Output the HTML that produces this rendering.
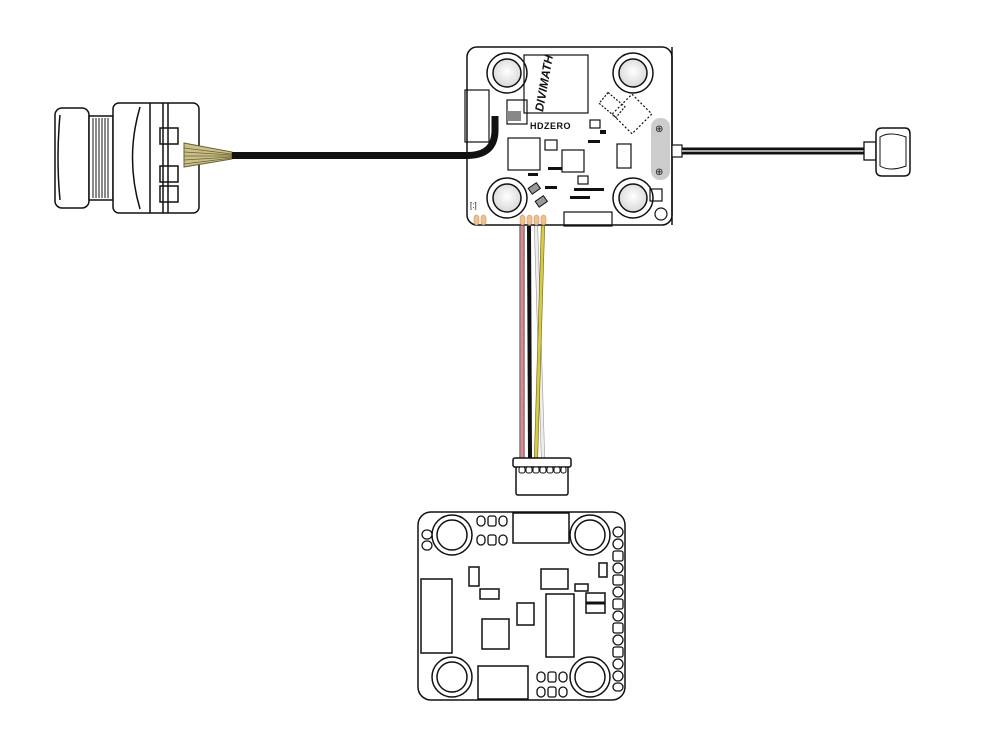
<!DOCTYPE html>
<html><head><meta charset="utf-8"><style>html,body{margin:0;padding:0;background:#fff}svg{display:block}</style></head>
<body>
<svg width="1000" height="750" viewBox="0 0 1000 750" xmlns="http://www.w3.org/2000/svg" font-family="Liberation Sans, sans-serif">
<defs>
<radialGradient id="hg" cx="50%" cy="45%" r="55%"><stop offset="0" stop-color="#fff"/><stop offset="1" stop-color="#d8d8d8"/></radialGradient>
</defs>
<g fill="none" stroke="#111" stroke-width="1.5">
<!-- camera -->
<rect x="55" y="108" width="34" height="100" rx="7" fill="#fff"/>
<path d="M60 115 Q56 158 60 200"/>
<rect x="89" y="116" width="24" height="84" fill="#fff"/>
<g stroke-width="1">
<line x1="93" y1="118" x2="93" y2="198"/><line x1="96" y1="118" x2="96" y2="198"/><line x1="99" y1="118" x2="99" y2="198"/><line x1="102" y1="118" x2="102" y2="198"/><line x1="105" y1="118" x2="105" y2="198"/><line x1="108" y1="118" x2="108" y2="198"/>
</g>
<rect x="113" y="103" width="86" height="110" rx="6" fill="#fff"/>
<path d="M140 107 Q125 158 140 209"/>
<line x1="150" y1="103" x2="150" y2="213"/><line x1="163" y1="103" x2="163" y2="213"/><line x1="168" y1="103" x2="168" y2="213"/>
<rect x="160" y="128" width="18" height="16"/><rect x="160" y="166" width="18" height="16"/><rect x="160" y="186" width="18" height="16"/>
</g>
<!-- camera wires -->
<path d="M184 143 L232 152 L232 159 L184 167 Z" fill="#c9c08a" stroke="#6a6030" stroke-width="1"/>
<g stroke="#6a6030" stroke-width="0.7"><line x1="184" y1="148" x2="232" y2="154"/><line x1="184" y1="152" x2="232" y2="155"/><line x1="184" y1="156" x2="232" y2="156"/><line x1="184" y1="160" x2="232" y2="157"/><line x1="184" y1="164" x2="232" y2="158"/></g>
<!-- top board -->
<rect x="467" y="47" width="205" height="178" rx="10" fill="#fff" stroke="#111" stroke-width="1.5"/>
<g stroke="#111" stroke-width="1.5">
<circle cx="507" cy="73" r="20" fill="#fff"/><circle cx="507" cy="73" r="14" fill="url(#hg)"/>
<circle cx="633" cy="73" r="20" fill="#fff"/><circle cx="633" cy="73" r="14" fill="url(#hg)"/>
<circle cx="507" cy="198" r="20" fill="#fff"/><circle cx="507" cy="198" r="14" fill="url(#hg)"/>
<circle cx="633" cy="198" r="20" fill="#fff"/><circle cx="633" cy="198" r="14" fill="url(#hg)"/>
</g>
<g fill="none" stroke="#111" stroke-width="1.2">
<rect x="524" y="55" width="64" height="58"/>
<rect x="465" y="90" width="24" height="52"/>
<rect x="507" y="100" width="20" height="24"/>
<rect x="508" y="138" width="32" height="32"/>
<rect x="562" y="150" width="22" height="22"/>
<rect x="617" y="144" width="14" height="24"/>
<rect x="564" y="212" width="48" height="14"/>
<rect x="601" y="98" width="22" height="14" stroke-dasharray="2 1.5" transform="rotate(40 612 105)"/>
<rect x="618" y="100" width="28" height="28" stroke-dasharray="2 2" transform="rotate(45 632 114)"/>
<circle cx="661" cy="214" r="6"/>
<rect x="650" y="189" width="12" height="12"/>
<rect x="545" y="140" width="12" height="10"/>
<rect x="590" y="120" width="10" height="8"/>
<rect x="578" y="176" width="10" height="8"/>
</g>
<rect x="507" y="111" width="14" height="10" fill="#888"/>
<rect x="529" y="185" width="10" height="7" fill="#999" stroke="#111" transform="rotate(-35 534 188)"/>
<rect x="536" y="198" width="10" height="7" fill="#999" stroke="#111" transform="rotate(-35 541 201)"/>
<g fill="#111"><rect x="548" y="167" width="14" height="3"/><rect x="574" y="188" width="30" height="3"/><rect x="570" y="196" width="20" height="3"/><rect x="600" y="130" width="6" height="4"/><rect x="528" y="173" width="10" height="3"/><rect x="545" y="186" width="12" height="3"/><rect x="588" y="140" width="12" height="3"/></g>
<text transform="translate(548 84) rotate(-80)" text-anchor="middle" font-size="12" font-weight="bold" font-style="italic" fill="#111">DIVIMATH</text>
<text x="530" y="129" font-size="9" font-weight="bold" fill="#111" letter-spacing="0.5">HDZERO</text>
<text x="470" y="208" font-size="8" fill="#111">[:]</text>
<!-- camera cable on top of board -->
<path d="M232 155.5 L468 155.5 Q495 155 495 130 L495 116" fill="none" stroke="#111" stroke-width="7"/>
<!-- antenna mount -->
<rect x="651" y="118" width="19" height="62" rx="9" fill="#ccc"/>
<text x="655" y="132" font-size="10" fill="#111">⊕</text><text x="655" y="175" font-size="10" fill="#111">⊕</text>
<line x1="672" y1="47" x2="672" y2="225" stroke="#111" stroke-width="1.5"/>
<rect x="672" y="145" width="10" height="12" fill="#fff" stroke="#111" stroke-width="1.2"/>
<line x1="682" y1="151" x2="864" y2="151" stroke="#111" stroke-width="7"/>
<line x1="682" y1="151" x2="864" y2="151" stroke="#fff" stroke-width="1.2"/>
<rect x="864" y="142" width="12" height="18" fill="#fff" stroke="#111" stroke-width="1.3"/>
<path d="M876 134 Q876 128 882 128 L905 128 Q910 128 910 134 L910 170 Q910 176 904 176 L882 176 Q876 176 876 170 Z" fill="#fff" stroke="#111" stroke-width="1.5"/>
<path d="M880 137 Q890 131 906 137 L906 166 Q890 172 880 166 Z" fill="none" stroke="#111" stroke-width="1"/>
<!-- pads -->
<g fill="#f0c090" stroke="#c09060" stroke-width="0.5">
<rect x="474" y="215" width="5" height="10" rx="2.5"/><rect x="481" y="215" width="5" height="10" rx="2.5"/>
<rect x="520" y="215" width="5" height="10" rx="2.5"/><rect x="527" y="215" width="5" height="10" rx="2.5"/><rect x="534" y="215" width="5" height="10" rx="2.5"/><rect x="541" y="215" width="5" height="10" rx="2.5"/>
</g>
<!-- wires -->
<line x1="522" y1="226" x2="522" y2="458" stroke="#333" stroke-width="5"/><line x1="522" y1="226" x2="522" y2="458" stroke="#d98a95" stroke-width="3.5"/>
<line x1="529" y1="226" x2="530" y2="458" stroke="#111" stroke-width="4"/>
<line x1="536" y1="226" x2="543" y2="458" stroke="#999" stroke-width="4"/><line x1="536" y1="226" x2="543" y2="458" stroke="#eee" stroke-width="2.8"/>
<line x1="543" y1="226" x2="536" y2="458" stroke="#6a6020" stroke-width="4"/><line x1="543" y1="226" x2="536" y2="458" stroke="#d8cc40" stroke-width="2.8"/>
<!-- connector -->
<rect x="516" y="466" width="52" height="29" rx="2" fill="#fff" stroke="#111" stroke-width="1.5"/>
<rect x="513" y="458" width="58" height="9" rx="2" fill="#fff" stroke="#111" stroke-width="1.5"/>
<g fill="#fff" stroke="#111" stroke-width="1"><rect x="519" y="467" width="6" height="6" rx="2"/><rect x="526" y="467" width="6" height="6" rx="2"/><rect x="533" y="467" width="6" height="6" rx="2"/><rect x="540" y="467" width="6" height="6" rx="2"/><rect x="547" y="467" width="6" height="6" rx="2"/><rect x="554" y="467" width="6" height="6" rx="2"/><rect x="561" y="467" width="5" height="6" rx="2"/></g>
<!-- bottom board -->
<g fill="#fff" stroke="#111" stroke-width="1.5">
<rect x="418" y="512" width="207" height="188" rx="13"/>
<circle cx="452" cy="535" r="20"/><circle cx="452" cy="535" r="15"/>
<circle cx="590" cy="535" r="20"/><circle cx="590" cy="535" r="15"/>
<circle cx="452" cy="677" r="20"/><circle cx="452" cy="677" r="15"/>
<circle cx="590" cy="677" r="20"/><circle cx="590" cy="677" r="15"/>
<rect x="513" y="513" width="56" height="30"/>
<rect x="421" y="579" width="31" height="74"/>
<rect x="469" y="567" width="10" height="19"/>
<rect x="480" y="589" width="19" height="10"/>
<rect x="517" y="603" width="17" height="22"/>
<rect x="482" y="619" width="27" height="30"/>
<rect x="541" y="569" width="27" height="20"/>
<rect x="546" y="594" width="28" height="63"/>
<rect x="575" y="584" width="13" height="7"/>
<rect x="586" y="593" width="19" height="20"/>
<rect x="599" y="563" width="8" height="14"/>
<rect x="478" y="666" width="50" height="33"/>
</g>
<line x1="586" y1="603" x2="605" y2="603" stroke="#111" stroke-width="3"/>
<g fill="#fff" stroke="#111" stroke-width="1.3">
<rect x="477" y="516" width="8" height="10" rx="4"/><rect x="488" y="516" width="8" height="10" rx="2"/><rect x="499" y="516" width="8" height="10" rx="4"/>
<rect x="477" y="535" width="8" height="10" rx="4"/><rect x="488" y="535" width="8" height="10" rx="2"/><rect x="499" y="535" width="8" height="10" rx="4"/>
<rect x="537" y="672" width="8" height="10" rx="4"/><rect x="548" y="672" width="8" height="10" rx="2"/><rect x="559" y="672" width="8" height="10" rx="4"/>
<rect x="537" y="687" width="8" height="10" rx="4"/><rect x="548" y="687" width="8" height="10" rx="2"/><rect x="559" y="687" width="8" height="10" rx="4"/>
<rect x="422" y="530" width="10" height="9" rx="4.5"/><rect x="422" y="541" width="10" height="9" rx="4.5"/>
<rect x="613" y="527" width="10" height="10" rx="5"/><rect x="613" y="539" width="10" height="10" rx="5"/><rect x="613" y="551" width="10" height="10" rx="2"/><rect x="613" y="563" width="10" height="10" rx="5"/><rect x="613" y="575" width="10" height="10" rx="2"/><rect x="613" y="587" width="10" height="10" rx="5"/><rect x="613" y="599" width="10" height="10" rx="2"/><rect x="613" y="611" width="10" height="10" rx="5"/><rect x="613" y="623" width="10" height="10" rx="2"/><rect x="613" y="635" width="10" height="10" rx="5"/><rect x="613" y="647" width="10" height="10" rx="2"/><rect x="613" y="659" width="10" height="10" rx="5"/><rect x="613" y="671" width="10" height="10" rx="5"/><rect x="613" y="683" width="10" height="8" rx="4"/>
</g>
</svg>
</body></html>
